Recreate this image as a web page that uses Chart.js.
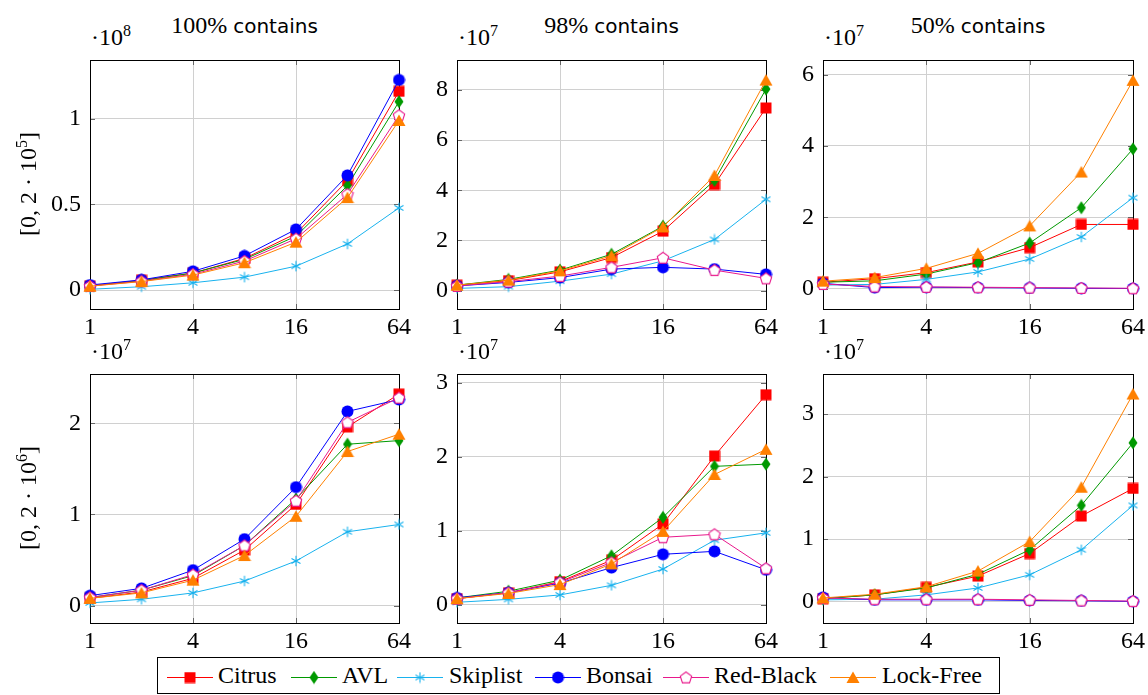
<!DOCTYPE html>
<html>
<head>
<meta charset="utf-8">
<script src="https://cdn.jsdelivr.net/npm/chart.js@4.4.1/dist/chart.umd.min.js"></script>
<style>
  body { margin: 0; width: 1148px; height: 695px; background: #fff; position: relative; overflow: hidden;
         font-family: 'Liberation Serif', serif; color: #000; }
  canvas.panel { position: absolute; }
  .title { position: absolute; top: 11px; white-space: nowrap; transform: translateX(-50%);
           font-size: 24px; line-height: 28px; }
  .title .sans { font-family: 'DejaVu Sans', sans-serif; font-size: 20px; }
  .mult { position: absolute; font-size: 24px; line-height: 24px; white-space: nowrap; }
  .mult sup { font-size: 16px; vertical-align: 9px; line-height: 0; }
  .rowlab { position: absolute; font-size: 24px; line-height: 26px; white-space: nowrap;
            transform: translate(-50%, -50%) rotate(-90deg); }
  .rowlab sup { font-size: 16px; vertical-align: 9px; line-height: 0; }
  #legend { position: absolute; left: 157px; top: 657px; width: 843px; height: 37px;
            border: 1px solid #000; box-sizing: border-box; }
  #legend canvas { position: absolute; top: 9px; }
  #legend span { position: absolute; top: 3px; font-size: 24px; line-height: 28px; white-space: nowrap; }
</style>
</head>
<body>
<div id="legend"></div>
<script>
// ---- Data (each series: one row per panel, values in units of the panel multiplier) ----
const threads = [1, 2, 4, 8, 16, 32, 64];
const xTicks  = [1, 4, 16, 64];

const titles    = ['100%', '98%', '50%'];
const rowLabels = ['5', '6'];            // [0, 2·10^k]
const exponents = [8, 7, 7, 7, 7, 7];

const citrus = [
  [0.025, 0.058, 0.10, 0.185, 0.33, 0.64, 1.16],
  [0.22, 0.40, 0.75, 1.32, 2.37, 4.23, 7.28],
  [0.18, 0.28, 0.45, 0.75, 1.15, 1.80, 1.80],
  [0.08, 0.15, 0.30, 0.61, 1.11, 1.96, 2.32],
  [0.08, 0.16, 0.31, 0.60, 1.09, 2.01, 2.84],
  [0.05, 0.11, 0.23, 0.41, 0.77, 1.37, 1.81]
];
const avl = [
  [0.025, 0.055, 0.10, 0.18, 0.315, 0.61, 1.10],
  [0.22, 0.45, 0.82, 1.45, 2.57, 4.39, 8.03],
  [0.18, 0.22, 0.41, 0.73, 1.28, 2.27, 3.92],
  [0.09, 0.17, 0.33, 0.66, 1.17, 1.77, 1.81],
  [0.09, 0.18, 0.33, 0.66, 1.18, 1.87, 1.90],
  [0.05, 0.11, 0.22, 0.44, 0.83, 1.54, 2.54]
];
const skiplist = [
  [0.005, 0.02, 0.043, 0.076, 0.14, 0.27, 0.48],
  [0.09, 0.16, 0.38, 0.66, 1.19, 2.04, 3.64],
  [0.10, 0.12, 0.26, 0.47, 0.83, 1.45, 2.55],
  [0.03, 0.07, 0.14, 0.27, 0.49, 0.81, 0.89],
  [0.03, 0.07, 0.13, 0.26, 0.48, 0.87, 0.97],
  [0.03, 0.04, 0.11, 0.22, 0.43, 0.83, 1.54]
];
const bonsai = [
  [0.03, 0.06, 0.11, 0.20, 0.355, 0.67, 1.227],
  [0.19, 0.33, 0.52, 0.86, 0.93, 0.86, 0.65],
  [0.15, 0.03, 0.04, 0.03, 0.02, 0.01, 0.005],
  [0.11, 0.19, 0.39, 0.73, 1.30, 2.13, 2.26],
  [0.09, 0.16, 0.29, 0.50, 0.68, 0.72, 0.47],
  [0.07, 0.03, 0.03, 0.03, 0.02, 0.015, 0.005]
];
const redBlack = [
  [0.024, 0.052, 0.093, 0.17, 0.30, 0.56, 1.02],
  [0.19, 0.36, 0.58, 0.93, 1.31, 0.82, 0.49],
  [0.13, 0.06, 0.05, 0.04, 0.03, 0.02, 0.01],
  [0.09, 0.17, 0.34, 0.66, 1.15, 2.01, 2.28],
  [0.08, 0.16, 0.30, 0.57, 0.91, 0.95, 0.49],
  [0.06, 0.04, 0.04, 0.04, 0.03, 0.02, 0.01]
];
const lockFree = [
  [0.023, 0.05, 0.088, 0.16, 0.28, 0.54, 0.99],
  [0.22, 0.42, 0.79, 1.39, 2.54, 4.59, 8.39],
  [0.21, 0.31, 0.57, 0.99, 1.76, 3.27, 5.84],
  [0.08, 0.14, 0.28, 0.55, 0.98, 1.69, 1.88],
  [0.08, 0.15, 0.27, 0.55, 0.99, 1.76, 2.10],
  [0.06, 0.12, 0.24, 0.49, 0.96, 1.83, 3.32]
];

const yTicks = [
  [0, 0.5, 1], [0, 2, 4, 6, 8], [0, 2, 4, 6],
  [0, 1, 2], [0, 1, 2, 3], [0, 1, 2, 3]
];
const yMin = [-0.11, -0.73, -0.57, -0.19, -0.25, -0.34];
const yMax = [1.343, 9.19, 6.41, 2.54, 3.12, 3.64];

// ---- Layout: plot areas [left, right, top, bottom] ----
const boxes = [
  [90, 399, 59, 309], [457, 766, 59, 309], [823, 1133, 59, 309],
  [90, 399, 373, 623], [457, 766, 373, 623], [823, 1133, 373, 623]
];
const Y_AXIS_W = 60, X_AXIS_H = 34, PAD_TOP = 6, PAD_RIGHT = 18;
const GRID = '#d0d0d0';
const FONT = { family: "'Liberation Serif', serif", size: 24 };

// ---- Marker images ----
function makeMarker(w, h, draw) {
  const c = document.createElement('canvas');
  c.width = w; c.height = h;
  draw(c.getContext('2d'), w, h);
  return c;
}
function poly(ctx, pts) {
  ctx.beginPath();
  pts.forEach((p, i) => i ? ctx.lineTo(p[0], p[1]) : ctx.moveTo(p[0], p[1]));
  ctx.closePath();
}

const series = [
  { name: 'Citrus', data: citrus, color: '#ff0000',
    marker: makeMarker(12, 12, (ctx) => { ctx.fillStyle = '#ff0000'; ctx.fillRect(0.5, 0.5, 11, 11); }) },
  { name: 'AVL', data: avl, color: '#009900',
    marker: makeMarker(10, 14, (ctx) => { ctx.fillStyle = '#009900'; poly(ctx, [[5, 0.5], [9.5, 7], [5, 13.5], [0.5, 7]]); ctx.fill(); }) },
  { name: 'Skiplist', data: skiplist, color: '#18b2ee',
    marker: makeMarker(12, 12, (ctx) => {
      ctx.strokeStyle = '#18b2ee'; ctx.lineWidth = 1.1; ctx.beginPath();
      for (const a of [90, 30, 150]) {
        const r = a * Math.PI / 180, dx = Math.cos(r) * 5.2, dy = Math.sin(r) * 5.2;
        ctx.moveTo(6 - dx, 6 - dy); ctx.lineTo(6 + dx, 6 + dy);
      }
      ctx.stroke();
    }) },
  { name: 'Bonsai', data: bonsai, color: '#0000ff',
    marker: makeMarker(13, 13, (ctx) => { ctx.fillStyle = '#0000ff'; ctx.beginPath(); ctx.arc(6.5, 6.5, 6, 0, 2 * Math.PI); ctx.fill(); }) },
  { name: 'Red-Black', data: redBlack, color: '#e8198c',
    marker: makeMarker(14, 14, (ctx) => {
      const pts = [];
      for (let k = 0; k < 5; k++) {
        const a = -Math.PI / 2 + k * 2 * Math.PI / 5;
        pts.push([7 + Math.cos(a) * 6, 7.5 + Math.sin(a) * 6]);
      }
      poly(ctx, pts);
      ctx.fillStyle = '#fff'; ctx.fill();
      ctx.strokeStyle = '#e8198c'; ctx.lineWidth = 1.1; ctx.stroke();
    }) },
  { name: 'Lock-Free', data: lockFree, color: '#ff8000',
    marker: makeMarker(14, 13, (ctx) => { ctx.fillStyle = '#ff8000'; poly(ctx, [[7, 0.5], [13.5, 12], [0.5, 12]]); ctx.fill(); }) }
];

// ---- Frame + inward tick marks (drawn under the data, like pgfplots) ----
const framePlugin = {
  id: 'frame',
  beforeDatasetsDraw(chart) {
    const { ctx, chartArea: a, scales } = chart;
    ctx.save();
    ctx.strokeStyle = '#666'; ctx.lineWidth = 1;
    ctx.beginPath();
    for (const v of xTicks) {
      const px = Math.round(scales.x.getPixelForValue(v)) + 0.5;
      ctx.moveTo(px, a.bottom); ctx.lineTo(px, a.bottom - 5);
      ctx.moveTo(px, a.top); ctx.lineTo(px, a.top + 5);
    }
    for (const t of scales.y.ticks) {
      const py = Math.round(scales.y.getPixelForValue(t.value)) + 0.5;
      ctx.moveTo(a.left, py); ctx.lineTo(a.left + 5, py);
      ctx.moveTo(a.right, py); ctx.lineTo(a.right - 5, py);
    }
    ctx.stroke();
    ctx.strokeStyle = '#000';
    ctx.strokeRect(Math.round(a.left) + 0.5, Math.round(a.top) + 0.5,
                   Math.round(a.right - a.left), Math.round(a.bottom - a.top));
    ctx.restore();
  }
};

// ---- Build panels ----
boxes.forEach((b, p) => {
  const [L, R, T, B] = b;
  const cv = document.createElement('canvas');
  cv.className = 'panel';
  cv.width = (R - L) + Y_AXIS_W + PAD_RIGHT;
  cv.height = (B - T) + PAD_TOP + X_AXIS_H;
  cv.style.left = (L - Y_AXIS_W) + 'px';
  cv.style.top = (T - PAD_TOP) + 'px';
  document.body.appendChild(cv);

  const datasets = series.map((s, i) => ({
    label: s.name,
    data: threads.map((t, k) => ({ x: t, y: s.data[p][k] })),
    borderColor: s.color,
    backgroundColor: s.color,
    borderWidth: 1,
    pointStyle: s.marker,
    pointRadius: 6,
    pointHoverRadius: 6,
    tension: 0,
    fill: false,
    clip: false,
    order: series.length - i
  }));

  new Chart(cv, {
    type: 'line',
    data: { datasets },
    options: {
      responsive: false,
      animation: false,
      events: [],
      layout: { padding: { top: PAD_TOP, right: PAD_RIGHT, left: 0, bottom: 0 } },
      plugins: { legend: { display: false }, tooltip: { enabled: false } },
      scales: {
        x: {
          type: 'logarithmic', min: 1, max: 64,
          afterBuildTicks: (s) => { s.ticks = xTicks.map(v => ({ value: v })); },
          afterFit: (s) => { s.height = X_AXIS_H; s.paddingLeft = 0; s.paddingRight = 0; },
          grid: { color: GRID, drawTicks: false },
          border: { display: false },
          ticks: { color: '#000', font: FONT, padding: 4, autoSkip: false, maxRotation: 0,
                   callback: (v) => String(v) }
        },
        y: {
          type: 'linear', min: yMin[p], max: yMax[p],
          afterBuildTicks: (s) => { s.ticks = yTicks[p].map(v => ({ value: v })); },
          afterFit: (s) => { s.width = Y_AXIS_W; s.paddingTop = 0; s.paddingBottom = 0; },
          grid: { color: GRID, drawTicks: false },
          border: { display: false },
          ticks: { color: '#000', font: FONT, padding: 9, callback: (v) => String(v) }
        }
      }
    },
    plugins: [framePlugin]
  });

  // multiplier label
  const m = document.createElement('div');
  m.className = 'mult';
  m.innerHTML = '·10<sup>' + exponents[p] + '</sup>';
  m.style.left = (L + 1) + 'px';
  m.style.top = (T - 34) + 'px';
  document.body.appendChild(m);
});

// column titles
titles.forEach((t, c) => {
  const d = document.createElement('div');
  d.className = 'title';
  d.innerHTML = t + ' <span class="sans">contains</span>';
  d.style.left = ((boxes[c][0] + boxes[c][1]) / 2) + 'px';
  document.body.appendChild(d);
});

// row labels
rowLabels.forEach((e, r) => {
  const b = boxes[r * 3];
  const d = document.createElement('div');
  d.className = 'rowlab';
  d.innerHTML = '[0, 2 · 10<sup>' + e + '</sup>]';
  d.style.left = '28px';
  d.style.top = ((b[2] + b[3]) / 2) + 'px';
  document.body.appendChild(d);
});

// ---- Legend ----
const legend = document.getElementById('legend');
const iconLeft = [9, 133, 239, 377, 505, 672];
const textLeft = [60, 184, 291, 428, 556, 724];
series.forEach((s, i) => {
  const c = document.createElement('canvas');
  c.width = 46; c.height = 20;
  c.style.left = iconLeft[i] + 'px';
  const ctx = c.getContext('2d');
  ctx.strokeStyle = s.color; ctx.lineWidth = 1;
  ctx.beginPath(); ctx.moveTo(0, 10.5); ctx.lineTo(46, 10.5); ctx.stroke();
  ctx.drawImage(s.marker, 23 - s.marker.width / 2, 10.5 - s.marker.height / 2);
  legend.appendChild(c);
  const t = document.createElement('span');
  t.textContent = s.name;
  t.style.left = textLeft[i] + 'px';
  legend.appendChild(t);
});
</script>
</body>
</html>
